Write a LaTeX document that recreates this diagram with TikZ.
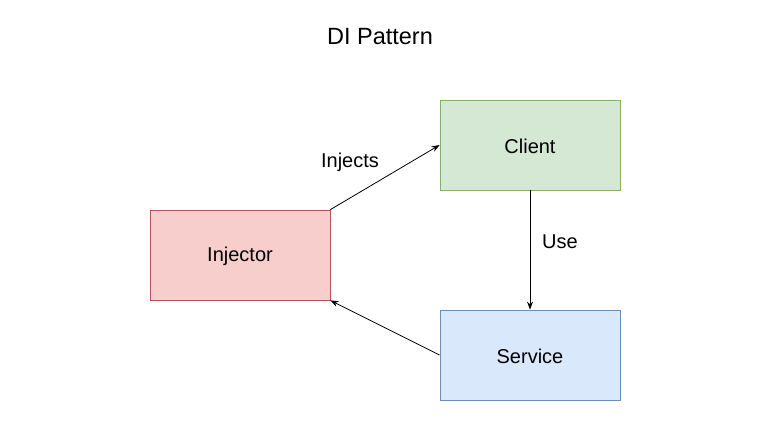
\documentclass[tikz,border=0pt]{standalone}
\usepackage{fontspec}
\setmainfont{Liberation Sans}
\usepackage{tikz}
\usetikzlibrary{positioning,arrows.meta}
\definecolor{clientfill}{HTML}{D5E8D4}
\definecolor{clientline}{HTML}{82B366}
\definecolor{injfill}{HTML}{F8CECC}
\definecolor{injline}{HTML}{B85450}
\definecolor{srvfill}{HTML}{DAE8FC}
\definecolor{srvline}{HTML}{6C8EBF}
\tikzset{
    box/.style={rectangle,line width=0.8pt,minimum width=180pt,minimum height=90pt,inner sep=0pt},
    boxtext/.style={inner sep=0pt,font=\fontsize{20}{24}\selectfont},
    lbl/.style={inner sep=0pt,font=\fontsize{20}{24}\selectfont},
    arr/.style={-{Stealth[length=8pt,width=6pt]},line width=0.8pt},
}

\begin{document}
\begin{tikzpicture}[x=1pt,y=-1pt]
\useasboundingbox (0,0) rectangle (761,431);
\node[lbl,font=\fontsize{23.5}{28}\selectfont] (title) at (380,37) {DI Pattern};
% boxes
\node[box,draw=clientline,fill=clientfill] (client)   at (530,145) {};
\node[box,draw=injline,fill=injfill]       (injector) at (240,255) {};
\node[box,draw=srvline,fill=srvfill]       (service)  at (530,355) {};
\node[boxtext] (clienttxt)   at (530,146.5) {Client};
\node[boxtext] (injectortxt) at (240,256.5) {Injector};
\node[boxtext] (servicetxt)  at (530,356.5) {Service};
% labels
\node[lbl] (injects) at (350,162) {Injects};
\node[lbl] (use)     at (560,242) {Use};
\draw[arr] (injector.north east) -- (client.west);
\draw[arr] (client) -- (service);
\draw[arr] (service.west) -- (injector.south east);
\end{tikzpicture}
\end{document}
